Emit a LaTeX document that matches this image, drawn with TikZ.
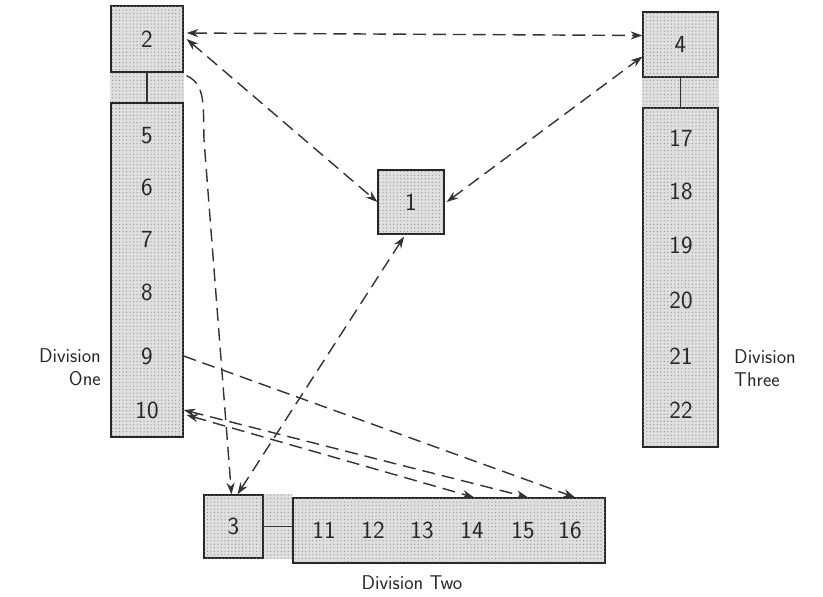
\documentclass[tikz,border=0pt]{standalone}
\usetikzlibrary{patterns,arrows.meta,calc}
\begin{document}
\begin{tikzpicture}[x=0.03cm,y=-0.03cm,
  stip/.style={fill=gray!25,postaction={pattern=dots,pattern color=gray!90}},
  box/.style={draw=black!85,line width=1.1pt,stip,inner sep=0pt},
  num/.style={font=\fontsize{21}{24}\sffamily,text=black!85,inner sep=1pt},
  lab/.style={font=\fontsize{17}{20}\sffamily,text=black!85,inner sep=0pt},
  link/.style={line width=1pt,draw=black!80},
  dsh/.style={draw=black!80,line width=1.2pt,dash pattern=on 11pt off 6pt},
  tip/.style={{Stealth[length=10pt,width=7pt]}-{Stealth[length=10pt,width=7pt]}},
  rtip/.style={-{Stealth[length=10pt,width=7pt]}}
]
\useasboundingbox (0,0) rectangle (823,597);
\node[box] (n2) at (147,39) [minimum width=2.16cm,minimum height=1.98cm] {};
\node[box] (col1) at (147,270) [minimum width=2.16cm,minimum height=10.02cm] {};
\node[box] (n4) at (680.5,44.5) [minimum width=2.25cm,minimum height=1.95cm] {};
\node[box] (col3) at (680.5,277.5) [minimum width=2.25cm,minimum height=10.17cm] {};
\node[box] (n1) at (411,202) [minimum width=1.98cm,minimum height=1.92cm] {};
\node[box] (n3) at (233.5,526.5) [minimum width=1.77cm,minimum height=1.89cm] {};
\node[box] (row2) at (449,530.5) [minimum width=9.36cm,minimum height=1.95cm] {};
% stippled gaps
\fill[stip] (n2.south west) rectangle (col1.north east);
\fill[stip] (n4.south west) rectangle (col3.north east);
\fill[stip] (n3.north east) rectangle (row2.west |- n3.south);
\draw[link] (n2.south) -- (col1.north);
\draw[link] (n4.south) -- (col3.north);
\draw[link] (n3.east) -- (n3.east -| row2.west);
% numbers
\node[num] (t2) at (n2) {2};
\node[num] (t4) at (n4) {4};
\node[num] (t1) at (n1) {1};
\node[num] (t3) at (n3) {3};
\node[num] (t5) at (147,136) {5};
\node[num] (t6) at (147,187) {6};
\node[num] (t7) at (147,240) {7};
\node[num] (t8) at (147,292) {8};
\node[num] (t9) at (147,356) {9};
\node[num] (t10) at (147,410) {10};
\node[num] (t17) at (681,138) {17};
\node[num] (t18) at (681,191) {18};
\node[num] (t19) at (681,245) {19};
\node[num] (t20) at (681,300) {20};
\node[num] (t21) at (681,356) {21};
\node[num] (t22) at (681,410) {22};
\node[num] (t11) at (324,530) {11};
\node[num] (t12) at (373,530) {12};
\node[num] (t13) at (422,530) {13};
\node[num] (t14) at (472,530) {14};
\node[num] (t15) at (523,530) {15};
\node[num] (t16) at (570,530) {16};
% division labels
\node[lab,align=right,anchor=east] (d1) at (101,367) {Division\\One};
\node[lab,align=left,anchor=west] (d3) at (734,368) {Division\\Three};
\node[lab] (d2) at (412,583) {Division Two};
% connectors
\draw[dsh,tip] ($(n2.east)+(3,-6)$) -- ($(n4.west)+(0,-9)$);
\draw[dsh,tip] ($(n2.east)+(3,0)$) -- (n1.west);
\draw[dsh,tip] ($(n1.east)+(2,0)$) -- ($(n4.west)+(0,12)$);
\draw[dsh,tip] ($(n1.south)+(-7,2)$) -- ($(n3.north)+(4,0)$);
\draw[dsh,rtip] ($(n2.south east)+(3,3)$) .. controls (206,85) and (203,105) .. (204,140) -- ($(n3.north)+(-2,0)$);
\draw[dsh,rtip] (col1.east |- t9) -- ($(t16 |- row2.north)+(5,0)$);
\draw[dsh,tip] (col1.east |- t10) -- ($(t15 |- row2.north)+(5,0)$);
\draw[dsh,tip] ($(col1.east |- t10)+(3,5)$) -- ($(t14 |- row2.north)+(2,0)$);
\end{tikzpicture}
\end{document}
